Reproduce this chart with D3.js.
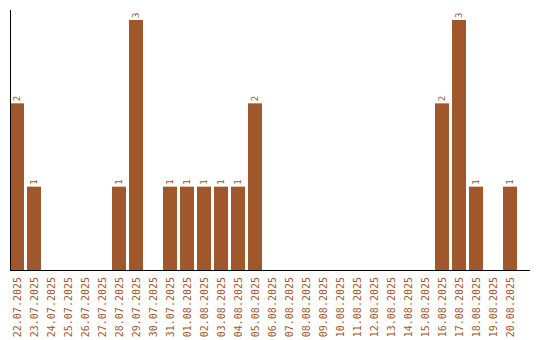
<!DOCTYPE html>
<html>
<head>
<meta charset="utf-8">
<script src="https://cdn.jsdelivr.net/npm/d3@7"></script>
<style>
  body { margin: 0; background: #fff; }
  svg { display: block; }
</style>
</head>
<body>
<svg id="drawing_region"></svg>
<script>
const dates = ["22.07.2025","23.07.2025","24.07.2025","25.07.2025","26.07.2025","27.07.2025",
    "28.07.2025","29.07.2025","30.07.2025","31.07.2025","01.08.2025","02.08.2025","03.08.2025",
    "04.08.2025","05.08.2025","06.08.2025","07.08.2025","08.08.2025","09.08.2025","10.08.2025",
    "11.08.2025","12.08.2025","13.08.2025","14.08.2025","15.08.2025","16.08.2025","17.08.2025",
    "18.08.2025","19.08.2025","20.08.2025"];
const counts = [2,1,0,0,0,0,1,3,0,1,1,1,1,1,2,0,0,0,0,0,0,0,0,0,0,2,3,1,0,1];

const data = dates.map((d, i) => ({ date: d, value: counts[i] }));

const width = 540, height = 340;
const color = "#a0572b";
const font = "'DejaVu Sans Mono', monospace";

const svg = d3.select("#drawing_region")
    .attr("width", width)
    .attr("height", height);

const xscale = d3.scaleBand()
    .domain(dates)
    .range([10, 517])
    .paddingInner(3 / 17)
    .paddingOuter(0);

const yscale = d3.scaleLinear()
    .domain([0, 3])
    .range([270, 20]);

// bars
svg.selectAll("rect.bar")
    .data(data.filter(d => d.value > 0))
    .enter()
    .append("rect")
    .attr("class", "bar")
    .attr("x", d => xscale(d.date))
    .attr("y", d => yscale(d.value))
    .attr("width", xscale.bandwidth())
    .attr("height", d => yscale(0) - yscale(d.value))
    .attr("fill", color);

// value labels
svg.selectAll("text.val")
    .data(data.filter(d => d.value > 0))
    .enter()
    .append("text")
    .attr("class", "val")
    .attr("transform", d => `translate(${xscale(d.date) + xscale.bandwidth() / 2 + 3}, ${yscale(d.value) - 2}) rotate(-90)`)
    .attr("font-family", font)
    .attr("font-size", 9)
    .attr("fill", color)
    .text(d => d.value);

// x labels
svg.selectAll("text.xl")
    .data(dates)
    .enter()
    .append("text")
    .attr("class", "xl")
    .attr("transform", d => `translate(${xscale(d) + xscale.bandwidth() / 2 + 3.5}, 277) rotate(-90)`)
    .attr("text-anchor", "end")
    .attr("font-family", font)
    .attr("font-size", 10)
    .attr("fill", color)
    .text(d => d);

// axes lines
svg.append("line")
    .attr("x1", 10.5).attr("x2", 10.5)
    .attr("y1", 10).attr("y2", 270)
    .attr("stroke", "#000");
svg.append("line")
    .attr("x1", 10).attr("x2", 530)
    .attr("y1", 270.5).attr("y2", 270.5)
    .attr("stroke", "#000");
</script>
</body>
</html>
